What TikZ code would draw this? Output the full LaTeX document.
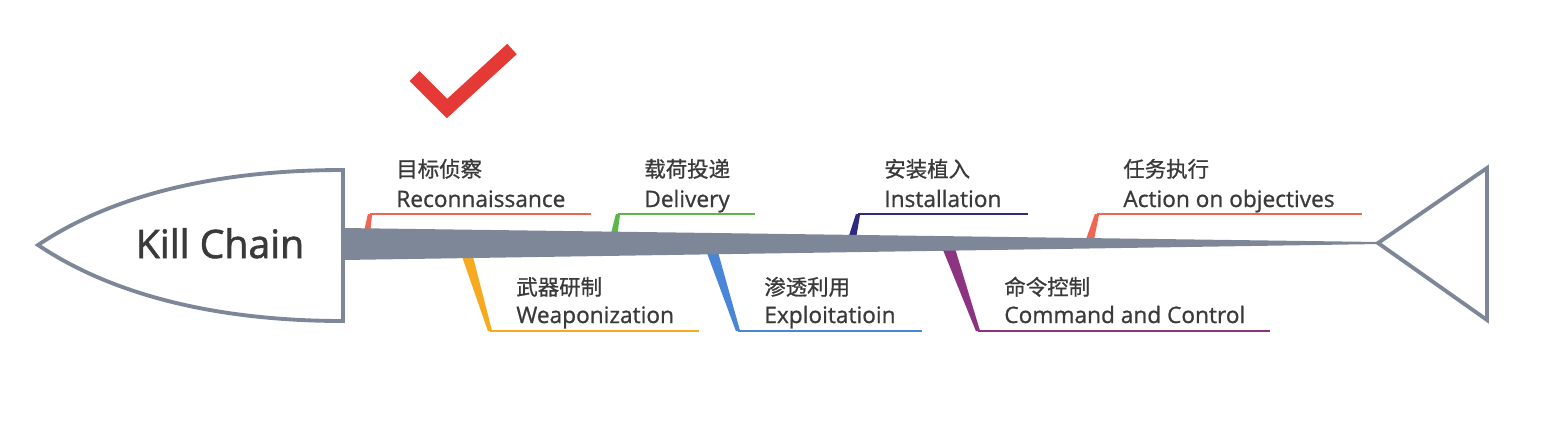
\documentclass[tikz,border=0pt]{standalone}
\usepackage{fontspec}
\setmainfont{Open Sans}
\newfontfamily\labelfont{Open Sans}[FakeBold=0.9]
\newfontfamily\titlefont{Open Sans}[FakeBold=1.6]
\newfontfamily\cjk{Noto Sans CJK SC}[FakeBold=0.9]
\usetikzlibrary{positioning}
\definecolor{shaftgray}{RGB}{125,135,152}
\definecolor{txtgray}{RGB}{58,58,58}
\definecolor{checkred}{RGB}{229,57,53}
\definecolor{redorange}{RGB}{240,102,82}
\definecolor{leafgreen}{RGB}{92,182,72}
\definecolor{navy}{RGB}{46,42,128}
\definecolor{amber}{RGB}{246,170,32}
\definecolor{skyblue}{RGB}{74,134,216}
\definecolor{plum}{RGB}{140,52,130}

\begin{document}
\begin{tikzpicture}[x=0.02cm,y=-0.02cm,
  zh/.style={anchor=base west,inner sep=0pt,text=txtgray,font=\cjk\fontsize{12.2}{14}\selectfont},
  en/.style={anchor=base west,inner sep=0pt,text=txtgray,font=\labelfont\fontsize{12.9}{15}\selectfont},
  rim/.style={draw=shaftgray,line width=2.2pt,line join=miter}]
\useasboundingbox (0,0) rectangle (1555,424);
% upper branches: base left/right, apex, end of line
\foreach \xa/\xb/\xt/\xe/\col/\top/\sub [count=\i] in {
    361/369/370/591/redorange/目标侦察/Reconnaissance,
    608/616/618/755/leafgreen/载荷投递/Delivery,
    846/855/858/1028/navy/安装植入/Installation,
    1084/1093/1097/1362/redorange/任务执行/Action on objectives}{
  \coordinate (u\i) at (\xt,214);
  \coordinate (ue\i) at (\xe,214);
  \fill[\col] (\xa,245) -- (\xb,245) -- ([xshift=1.2]u\i) -- ([xshift=-1.2]u\i) -- cycle;
  \draw[\col,line width=1.2pt] (u\i) -- (ue\i);
  \node[zh] (uz\i) at (\xt+26,177) {\top};
  \node[en] (un\i) at (\xt+26,207) {\sub};
}
% lower branches
\foreach \xa/\xb/\xt/\xe/\col/\top/\sub [count=\i] in {
    458/470/490/699/amber/武器研制/Weaponization,
    704/716/738/922/skyblue/渗透利用/Exploitatioin,
    941/954/978/1270/plum/命令控制/Command and Control}{
  \coordinate (l\i) at (\xt,331);
  \coordinate (le\i) at (\xe,331);
  \fill[\col] (\xa,245) -- (\xb,245) -- ([xshift=1.2]l\i) -- ([xshift=-1.2]l\i) -- cycle;
  \draw[\col,line width=1.2pt] (l\i) -- (le\i);
  \node[zh] (lz\i) at (\xt+26,295) {\top};
  \node[en] (ln\i) at (\xt+26,323) {\sub};
}
% shaft
\fill[shaftgray] (343,228) -- (1380,242) -- (1380,244) -- (343,260) -- cycle;
% head
\draw[rim,fill=white] (343,170) -- (343,321) .. controls (230,321) and (120,300) .. (38,245)
  .. controls (120,190) and (230,170) .. (343,170) -- cycle;
\node[anchor=base,inner sep=0pt,text=txtgray,font=\titlefont\fontsize{22.3}{26}\selectfont] (title) at (220,258) {Kill Chain};
% tail
\draw[rim] (1378,243) -- (1487,168) -- (1487,320) -- cycle;
% check mark
\draw[checkred,line width=8pt,line join=miter] (414.5,76) -- (447,108.5) -- (512,49);
\end{tikzpicture}
\end{document}
